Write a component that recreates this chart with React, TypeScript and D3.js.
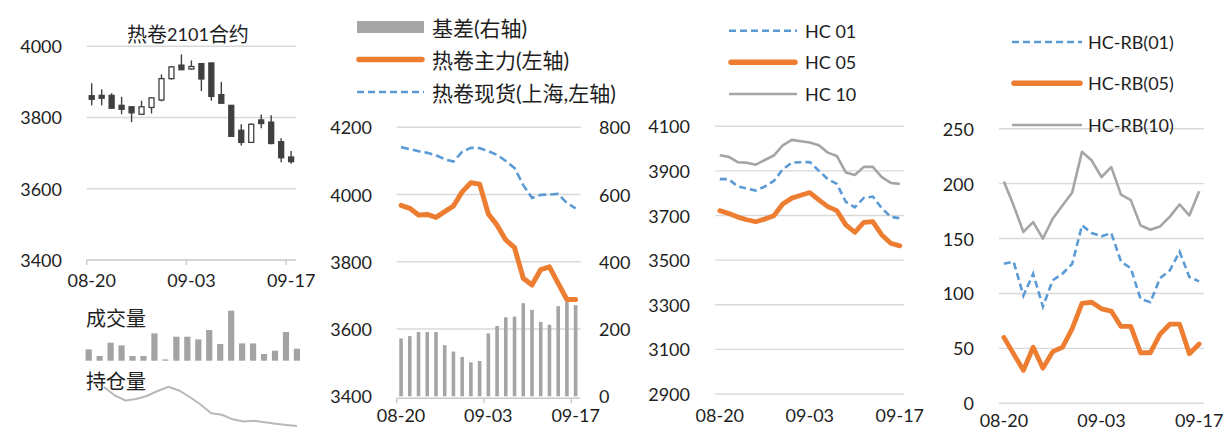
import React from 'react';
import * as d3 from 'd3';

// ---------- data ----------
const dates = ['08-20','08-21','08-24','08-25','08-26','08-27','08-28','08-31','09-01','09-02','09-03','09-04','09-07','09-08','09-09','09-10','09-11','09-14','09-15','09-16','09-17'];
const tickDates = ['08-20', '09-03', '09-17'];

// 热卷2101合约 candles
const candleOpen  = [3861,3862,3862,3834,3830,3809,3828,3849,3909,3947,3936,3951,3953,3864,3834,3764,3730,3793,3787,3732,3689];
const candleHigh  = [3896,3879,3868,3858,3830,3847,3857,3921,3945,3977,3960,3953,3953,3900,3834,3781,3783,3808,3806,3742,3706];
const candleLow   = [3834,3834,3825,3809,3787,3809,3811,3845,3906,3934,3934,3874,3847,3840,3745,3721,3730,3770,3725,3674,3670];
const candleClose = [3851,3854,3826,3823,3813,3830,3855,3909,3942,3934,3943,3908,3859,3840,3747,3730,3781,3783,3727,3687,3676];
const candleTicks = [3400, 3600, 3800, 4000];

// thumbnails: 成交量 / 持仓量 (relative units)
const volume = [11.3,4.7,18,15.3,4.7,4.7,27.3,1.3,24,24,21.3,30.7,16.7,50,17.3,17.3,6.7,10,28.7,12];
const openInterest = [43,34.5,29.5,31,34,39,43.2,39.5,33,25.5,16.7,15.2,10.7,8.5,9.2,7.8,6.2,5,4];

// panel 2: 基差 / 热卷主力 / 热卷现货
const basis   = [172,179,191,191,191,152,133,117,101,105,187,209,235,237,277,257,221,213,268,281,271];
const hcMain  = [3968,3959,3939,3941,3932,3949,3966,4008,4035,4031,3942,3909,3865,3842,3751,3731,3777,3785,3736,3688,3688];
const hcSpot  = [4141,4135,4129,4124,4117,4105,4098,4127,4139,4138,4129,4118,4100,4079,4028,3990,3999,4000,4002,3975,3959];
const leftTicks2 = [3400, 3600, 3800, 4000, 4200];
const rightTicks2 = [0, 200, 400, 600, 800];

// panel 3: HC 01 / 05 / 10
const hc01 = [3863,3863,3830,3821,3812,3830,3855,3907,3937,3939,3940,3901,3863,3842,3761,3737,3779,3785,3733,3694,3688];
const hc05 = [3722,3709,3693,3681,3672,3684,3699,3752,3778,3791,3803,3770,3740,3722,3658,3625,3669,3673,3613,3576,3564];
const hc10 = [3970,3963,3939,3937,3928,3949,3969,4015,4039,4033,4027,4015,3982,3967,3893,3882,3918,3918,3872,3846,3842];
const ticks3 = [2900, 3100, 3300, 3500, 3700, 3900, 4100];

// panel 4: HC-RB spreads
const spread01 = [127,129,98,118,88,112,118,127,162,155,152,155,129,123,95,92,114,121,138,115,111];
const spread05 = [60,45,30,51,32,47,51,68,91,92,86,84,70,70,46,46,63,72,72,45,54];
const spread10 = [202,180,156,165,150,168,180,192,229,221,206,215,190,185,162,158,161,170,181,171,193];
const ticks4 = [0, 50, 100, 150, 200, 250];

// ---------- style ----------
const FONT = "Lato, 'Noto Sans CJK SC', sans-serif";
const TXT = '#1e1e1e';
const GRID = '#d9d9d9';
const ORANGE = '#ed7d31';
const BLUE = '#5b9bd5';
const GRAY = '#a5a5a5';
const DARK = '#404040';

type Band = d3.ScaleBand<string>;

function Grid({ ticks, y, x0, x1 }: { ticks: number[]; y: d3.ScaleLinear<number, number>; x0: number; x1: number }) {
  return (
    <g>
      {ticks.map((t) => (
        <line key={t} x1={x0} x2={x1} y1={y(t)} y2={y(t)} stroke={GRID} strokeWidth={1.4} />
      ))}
    </g>
  );
}

function YLabels({ ticks, y, x, anchor = 'end' }: { ticks: number[]; y: d3.ScaleLinear<number, number>; x: number; anchor?: string }) {
  return (
    <g>
      {ticks.map((t) => (
        <text key={t} x={x} y={y(t)} fontSize={18} fontFamily={FONT} fill={TXT} textAnchor={anchor as any} dominantBaseline="central">
          {t}
        </text>
      ))}
    </g>
  );
}

function XLabels({ x, base }: { x: Band; base: number }) {
  return (
    <g>
      {tickDates.map((d) => (
        <text key={d} x={(x(d) as number) + x.bandwidth() / 2} y={base} fontSize={18} fontFamily={FONT} fill={TXT} textAnchor="middle">
          {d}
        </text>
      ))}
    </g>
  );
}

function XTicks({ x, y0, len }: { x: Band; y0: number; len: number }) {
  const r = x.range();
  return (
    <g stroke="#c9c9c9" strokeWidth={1.4}>
      <line x1={r[0]} x2={r[1]} y1={y0} y2={y0} />
      {tickDates.map((d) => (
        <line key={d} x1={x(d) as number} x2={x(d) as number} y1={y0} y2={y0 + len} />
      ))}
    </g>
  );
}

function linePath(x: Band, y: d3.ScaleLinear<number, number>, vals: number[]) {
  return d3
    .line<number>()
    .x((_, i) => (x(dates[i]) as number) + x.bandwidth() / 2)
    .y((v) => y(v))(vals) as string;
}

function LegendItem({ kind, x0, x1, y, label, tx, fs }: { kind: string; x0: number; x1: number; y: number; label: string; tx: number; fs: number }) {
  let mark: React.ReactNode;
  if (kind === 'bar') mark = <rect x={x0} y={y - 6} width={x1 - x0} height={12} fill={GRAY} />;
  else if (kind === 'orange') mark = <line x1={x0} x2={x1} y1={y} y2={y} stroke={ORANGE} strokeWidth={5.5} strokeLinecap="round" />;
  else if (kind === 'blue') mark = <line x1={x0} x2={x1} y1={y} y2={y} stroke={BLUE} strokeWidth={2.6} strokeDasharray="7,4" />;
  else mark = <line x1={x0} x2={x1} y1={y} y2={y} stroke={GRAY} strokeWidth={2.6} />;
  return (
    <g>
      {mark}
      <text x={tx} y={y} fontSize={fs} fontFamily={FONT} fill={TXT} dominantBaseline="central">
        {label}
      </text>
    </g>
  );
}

export default function App() {
  // ---------- panel 1 ----------
  const x1 = d3.scaleBand<string>().domain(dates).range([86.7, 296.1]);
  const y1 = d3.scaleLinear().domain([3400, 4000]).range([260, 46.2]);
  const bw1 = 5;

  const xv = d3.scaleBand<string>().domain(volume.map((_, i) => String(i))).range([83.2, 302.4]);
  const yv = d3.scaleLinear().domain([0, 50]).range([360.7, 310.7]);
  const xo = d3.scalePoint<string>().domain(openInterest.map((_, i) => String(i))).range([104, 297]);
  const yo = d3.scaleLinear().domain([0, 44]).range([430, 386]);
  const oiPath = d3
    .line<number>()
    .x((_, i) => xo(String(i)) as number)
    .y((v) => yo(v))(openInterest) as string;

  // ---------- panel 2 ----------
  const x2 = d3.scaleBand<string>().domain(dates).range([396.7, 580.0]);
  const y2L = d3.scaleLinear().domain([3400, 4200]).range([396.3, 127.3]);
  const y2R = d3.scaleLinear().domain([0, 800]).range([396.3, 127.3]);

  // ---------- panel 3 ----------
  const x3 = d3.scaleBand<string>().domain(dates).range([715.3, 904.3]);
  const y3 = d3.scaleLinear().domain([2900, 4100]).range([394, 126.3]);

  // ---------- panel 4 ----------
  const x4 = d3.scaleBand<string>().domain(dates).range([999, 1204]);
  const y4 = d3.scaleLinear().domain([0, 250]).range([403.3, 128.7]);

  return (
    <div style={{ position: 'absolute', left: 0, top: 0 }}>
      <style>{`body{margin:0;background:#fff}`}</style>
      <svg width={1225} height={430} style={{ display: 'block', background: '#fff' }}>
        <defs>
          <filter id="soft" x="-10%" y="-10%" width="120%" height="120%">
            <feGaussianBlur stdDeviation="0.55" />
          </filter>
        </defs>

        {/* ===== Panel 1: candlestick ===== */}
        <text x={188} y={33.5} fontFamily={FONT} fill={TXT} textAnchor="middle" dominantBaseline="central">
          <tspan fontSize={20}>热卷</tspan>
          <tspan fontSize={18}>2101</tspan>
          <tspan fontSize={20}>合约</tspan>
        </text>
        <Grid ticks={candleTicks.filter((t) => t !== 3400)} y={y1} x0={86.7} x1={296.1} />
        <YLabels ticks={candleTicks} y={y1} x={62} />
        <XTicks x={x1} y0={y1(3400)} len={5} />
        <XLabels x={x1} base={287} />
        <g>
          {dates.map((d, i) => {
            const cx = (x1(d) as number) + x1.bandwidth() / 2;
            const up = candleClose[i] >= candleOpen[i];
            const top = y1(Math.max(candleOpen[i], candleClose[i]));
            const bot = y1(Math.min(candleOpen[i], candleClose[i]));
            return (
              <g key={d}>
                <line x1={cx} x2={cx} y1={y1(candleHigh[i])} y2={y1(candleLow[i])} stroke={DARK} strokeWidth={1.4} />
                <rect
                  x={cx - bw1 / 2}
                  y={top}
                  width={bw1}
                  height={Math.max(bot - top, 1.5)}
                  fill={up ? '#fff' : DARK}
                  stroke={DARK}
                  strokeWidth={1.3}
                />
              </g>
            );
          })}
        </g>

        {/* thumbnails */}
        <text x={86} y={317.5} fontSize={20} fontFamily={FONT} fill={TXT} dominantBaseline="central">成交量</text>
        <g filter="url(#soft)">
          {volume.map((v, i) => (
            <rect key={i} x={(xv(String(i)) as number) + (xv.bandwidth() - 6.2) / 2} y={yv(v)} width={6.2} height={yv(0) - yv(v)} fill="#a3a3a3" />
          ))}
        </g>
        <text x={86} y={381} fontSize={20} fontFamily={FONT} fill={TXT} dominantBaseline="central">持仓量</text>
        <path d={oiPath} fill="none" stroke="#b8b8b8" strokeWidth={2} filter="url(#soft)" />

        {/* ===== Panel 2 ===== */}
        <LegendItem kind="bar" x0={357} x1={424} y={27} label="基差(右轴)" tx={432} fs={21} />
        <LegendItem kind="orange" x0={359} x1={422} y={59.5} label="热卷主力(左轴)" tx={432} fs={21} />
        <LegendItem kind="blue" x0={357} x1={424} y={92} label="热卷现货(上海,左轴)" tx={432} fs={21} />
        <Grid ticks={leftTicks2.filter((t) => t !== 3400)} y={y2L} x0={396.7} x1={580.7} />
        <YLabels ticks={leftTicks2} y={y2L} x={372} />
        <YLabels ticks={rightTicks2} y={y2R} x={599} anchor="start" />
        <g>
          {basis.map((v, i) => (
            <rect key={i} x={(x2(dates[i]) as number) + (x2.bandwidth() - 3.6) / 2} y={y2R(v)} width={3.6} height={y2R(0) - y2R(v)} fill={GRAY} />
          ))}
        </g>
        <XTicks x={x2} y0={y2L(3400) + 2} len={5} />
        <XLabels x={x2} base={421.7} />
        <path d={linePath(x2, y2L, hcSpot)} fill="none" stroke={BLUE} strokeWidth={2.6} strokeDasharray="8,4" />
        <path d={linePath(x2, y2L, hcMain)} fill="none" stroke={ORANGE} strokeWidth={5} strokeLinejoin="round" strokeLinecap="round" />

        {/* ===== Panel 3 ===== */}
        <LegendItem kind="blue" x0={729} x1={797} y={30.7} label="HC 01" tx={805} fs={18} />
        <LegendItem kind="orange" x0={731} x1={795} y={62.3} label="HC 05" tx={805} fs={18} />
        <LegendItem kind="gray" x0={729} x1={797} y={94} label="HC 10" tx={805} fs={18} />
        <Grid ticks={ticks3} y={y3} x0={715.3} x1={904.3} />
        <YLabels ticks={ticks3} y={y3} x={690} />
        <XLabels x={x3} base={421.7} />
        <path d={linePath(x3, y3, hc10)} fill="none" stroke={GRAY} strokeWidth={2.6} strokeLinejoin="round" />
        <path d={linePath(x3, y3, hc01)} fill="none" stroke={BLUE} strokeWidth={2.6} strokeDasharray="7,4" />
        <path d={linePath(x3, y3, hc05)} fill="none" stroke={ORANGE} strokeWidth={4.8} strokeLinejoin="round" strokeLinecap="round" />

        {/* ===== Panel 4 ===== */}
        <Grid ticks={ticks4} y={y4} x0={999} x1={1204} />
        <LegendItem kind="blue" x0={1012} x1={1082} y={42} label="HC-RB(01)" tx={1088} fs={18} />
        <LegendItem kind="orange" x0={1014} x1={1080} y={83.3} label="HC-RB(05)" tx={1088} fs={18} />
        <LegendItem kind="gray" x0={1012} x1={1082} y={125} label="HC-RB(10)" tx={1088} fs={18} />
        <YLabels ticks={ticks4} y={y4} x={974} />
        <XLabels x={x4} base={427} />
        <path d={linePath(x4, y4, spread10)} fill="none" stroke={GRAY} strokeWidth={2.6} strokeLinejoin="round" />
        <path d={linePath(x4, y4, spread01)} fill="none" stroke={BLUE} strokeWidth={2.6} strokeDasharray="7,4" />
        <path d={linePath(x4, y4, spread05)} fill="none" stroke={ORANGE} strokeWidth={4.8} strokeLinejoin="round" strokeLinecap="round" />
      </svg>
    </div>
  );
}
